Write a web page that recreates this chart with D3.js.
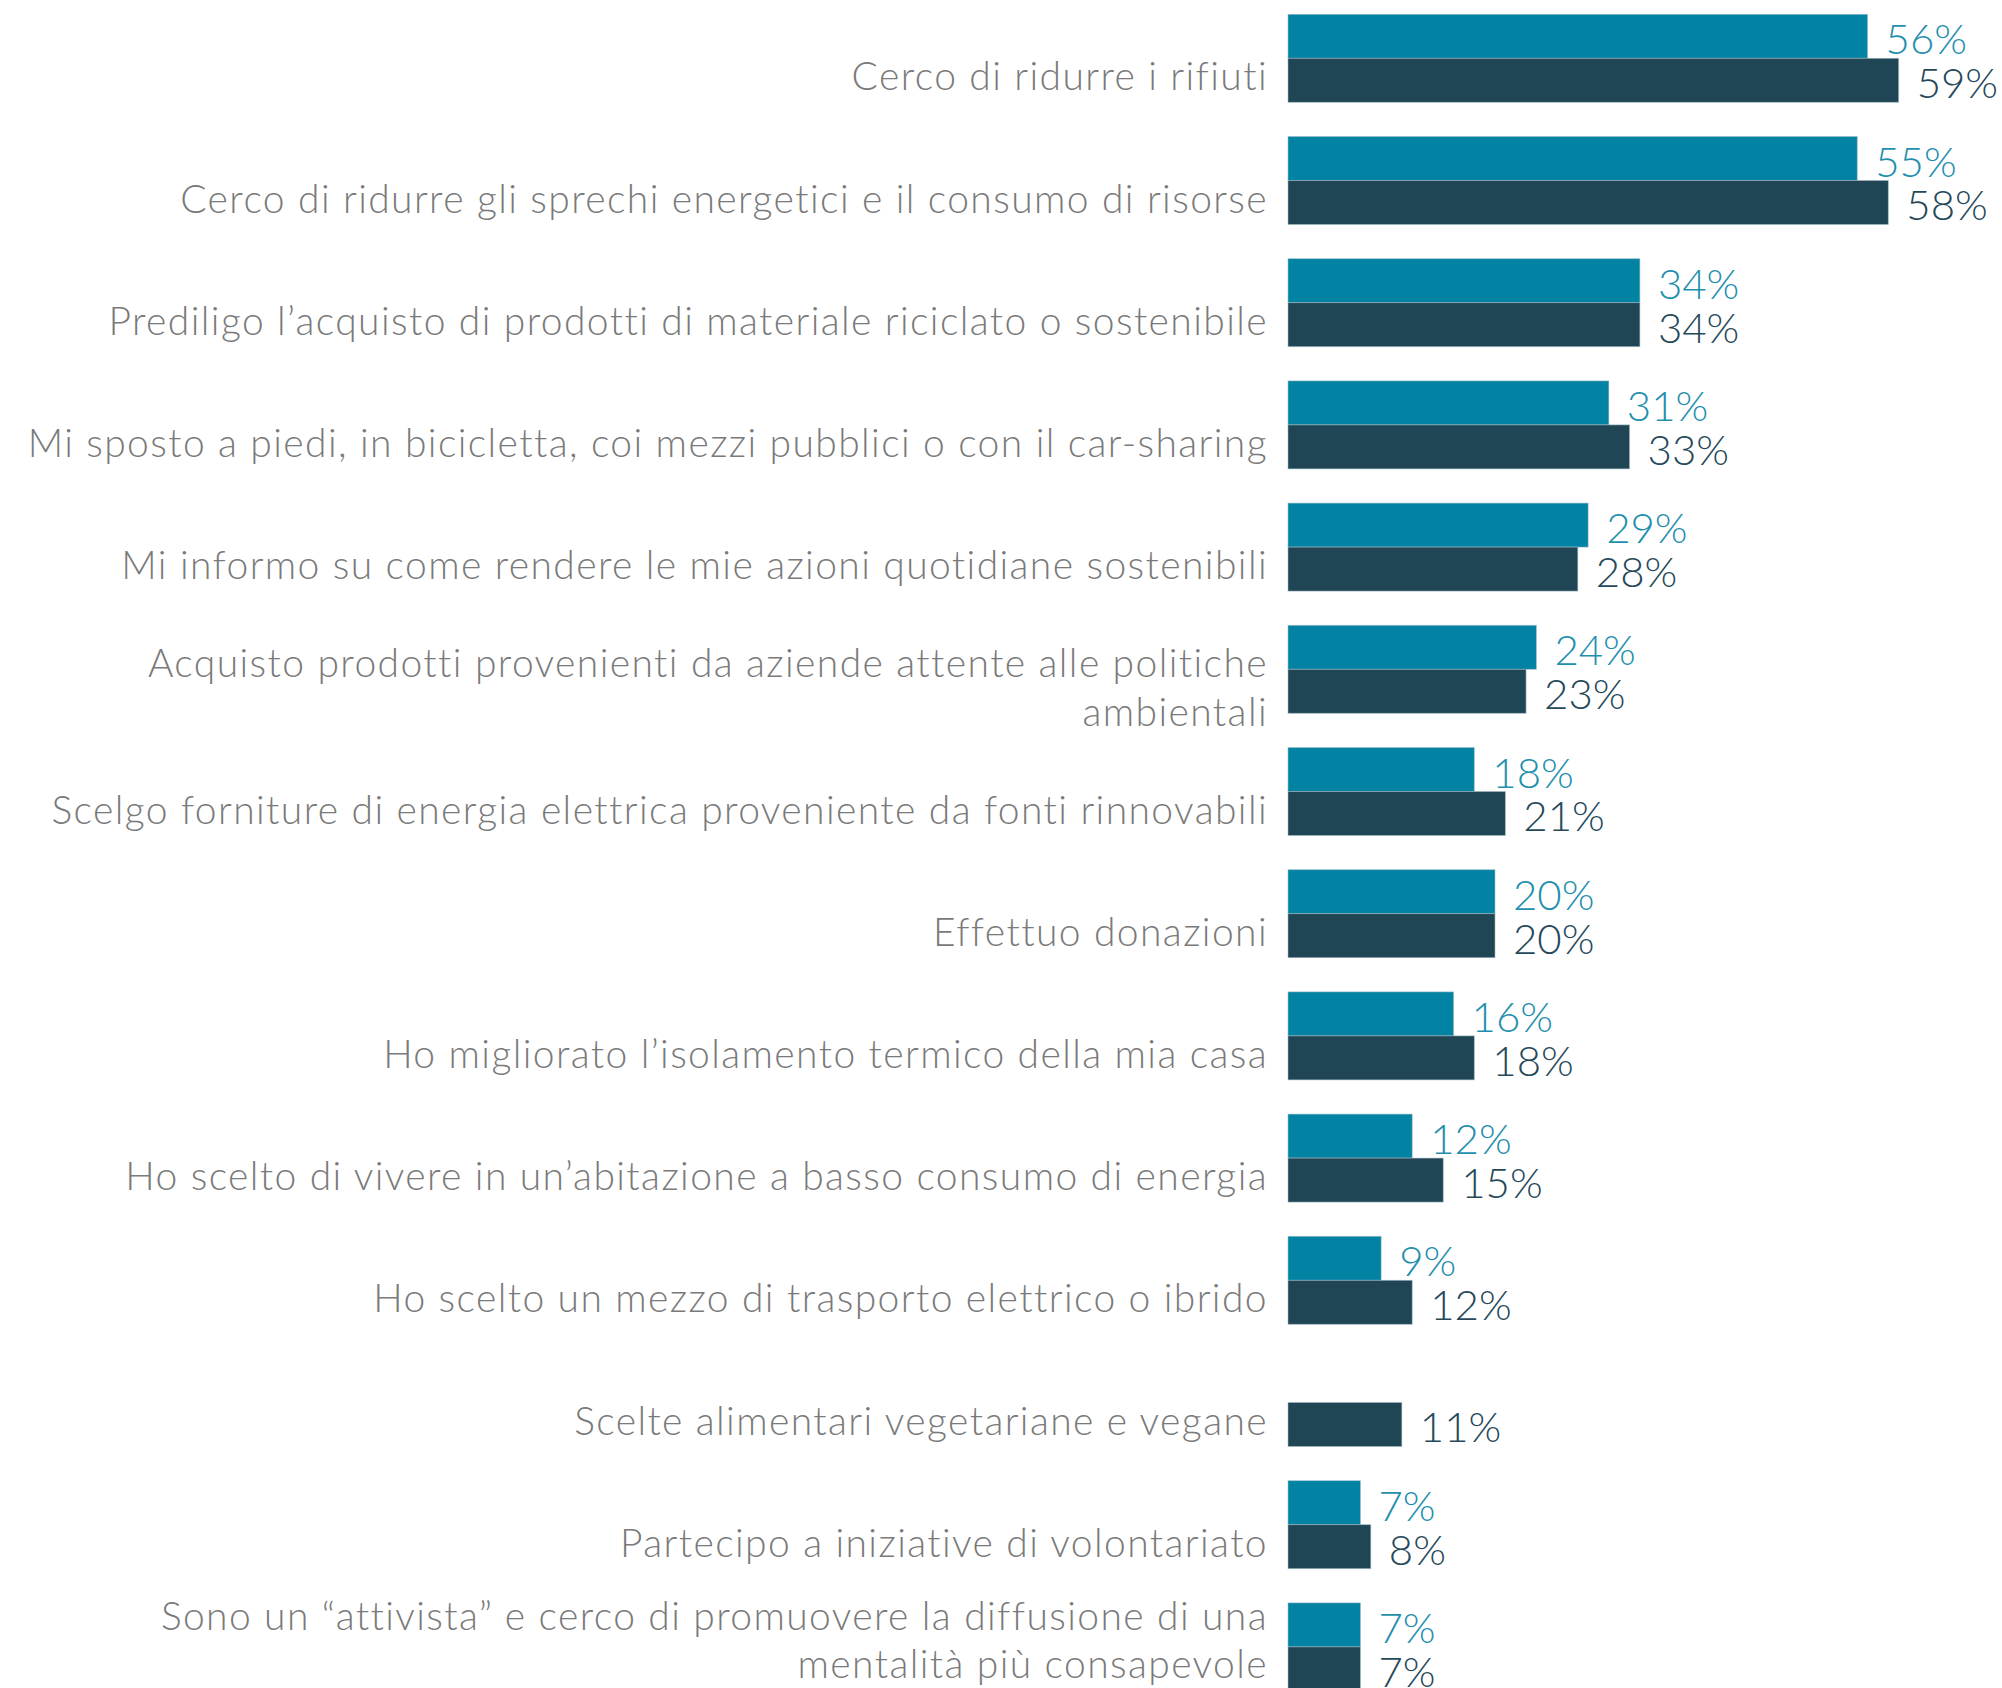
<!DOCTYPE html>
<html>
<head>
<meta charset="utf-8">
<script src="https://cdn.jsdelivr.net/npm/d3@7"></script>
<style>
  html, body { margin: 0; padding: 0; background: #ffffff; }
  svg { display: block; }
  .thin { font-family: "Lato Light", "Lato", "Open Sans", sans-serif; font-weight: 300; }
</style>
</head>
<body>
<svg id="chart" width="2002" height="1688"></svg>
<script>
// Categories (use "\n" for a manual line break in the label)
const categories = [
  "Cerco di ridurre i rifiuti",
  "Cerco di ridurre gli sprechi energetici e il consumo di risorse",
  "Prediligo l’acquisto di prodotti di materiale riciclato o sostenibile",
  "Mi sposto a piedi, in bicicletta, coi mezzi pubblici o con il car-sharing",
  "Mi informo su come rendere le mie azioni quotidiane sostenibili",
  "Acquisto prodotti provenienti da aziende attente alle politiche\nambientali",
  "Scelgo forniture di energia elettrica proveniente da fonti rinnovabili",
  "Effettuo donazioni",
  "Ho migliorato l’isolamento termico della mia casa",
  "Ho scelto di vivere in un’abitazione a basso consumo di energia",
  "Ho scelto un mezzo di trasporto elettrico o ibrido",
  "Scelte alimentari vegetariane e vegane",
  "Partecipo a iniziative di volontariato",
  "Sono un “attivista” e cerco di promuovere la diffusione di una\nmentalità più consapevole"
];

// Percentages, first series (null = not asked)
const seriesA = [56, 55, 34, 31, 29, 24, 18, 20, 16, 12, 9, null, 7, 7];
// Percentages, second series
const seriesB = [59, 58, 34, 33, 28, 23, 21, 20, 18, 15, 12, 11, 8, 7];

const seriesKeys = ["a", "b"];
const barColors = { a: "#0283a3", b: "#204655" };
const valueColors = { a: "#1f8fae", b: "#26495a" };

const W = 2002, H = 1688;
const svg = d3.select("#chart");

const nCats = categories.length;
const bandStep = 122.2;
const padInner = 0.28;
const topY = 14.3;

const y = d3.scaleBand()
  .domain(categories)
  .range([topY, topY + bandStep * (nCats - padInner)])
  .paddingInner(padInner)
  .paddingOuter(0)
  .align(0);

const ySub = d3.scaleBand()
  .domain(seriesKeys)
  .range([0, y.bandwidth()]);

const x = d3.scaleLinear()
  .domain([0, 100])
  .range([1288, 1288 + 1035]);

const rows = categories.map((c, i) => ({
  cat: c,
  values: [
    { key: "a", v: seriesA[i] },
    { key: "b", v: seriesB[i] }
  ]
}));

const groups = svg.append("g").attr("class", "bars")
  .selectAll("g")
  .data(rows)
  .join("g")
  .attr("transform", d => `translate(0,${y(d.cat)})`);

const cells = groups.selectAll("g.cell")
  .data(d => d.values.filter(e => e.v != null))
  .join("g")
  .attr("class", "cell");

cells.append("rect")
  .attr("x", x(0))
  .attr("y", d => ySub(d.key))
  .attr("width", d => x(d.v) - x(0))
  .attr("height", ySub.bandwidth())
  .attr("fill", d => barColors[d.key])
  .attr("stroke", "#9fbcc6")
  .attr("stroke-width", 0.8)
  .attr("stroke-opacity", 0.7);

cells.append("text")
  .attr("class", "thin")
  .attr("x", d => x(d.v) + 18)
  .attr("y", d => ySub(d.key) + ySub.bandwidth() - 4)
  .attr("fill", d => valueColors[d.key])
  .style("font-size", "42px")
  .text(d => d.v + "%");

// Category labels, right-aligned left of the bars, centred in each band
const labelX = x(0) - 20;
const lineH = 48.5;
const capHalf = 14;
const maxBaseline = H - 10;

const labels = svg.append("g").attr("class", "labels")
  .selectAll("text")
  .data(categories)
  .join("text")
  .attr("class", "thin")
  .attr("text-anchor", "end")
  .attr("fill", "#7a7a7a")
  .style("font-size", "39px")
  .style("letter-spacing", "1.4px");

labels.each(function(c) {
  const lines = c.split("\n");
  const cy = y(c) + bandStep / 2 + 1;
  let first = cy - (lines.length - 1) * lineH / 2 + capHalf;
  const last = first + (lines.length - 1) * lineH;
  if (last > maxBaseline) first -= last - maxBaseline;
  d3.select(this).selectAll("tspan")
    .data(lines)
    .join("tspan")
    .attr("x", labelX)
    .attr("y", (d, i) => first + i * lineH)
    .text(d => d);
});
</script>
</body>
</html>
